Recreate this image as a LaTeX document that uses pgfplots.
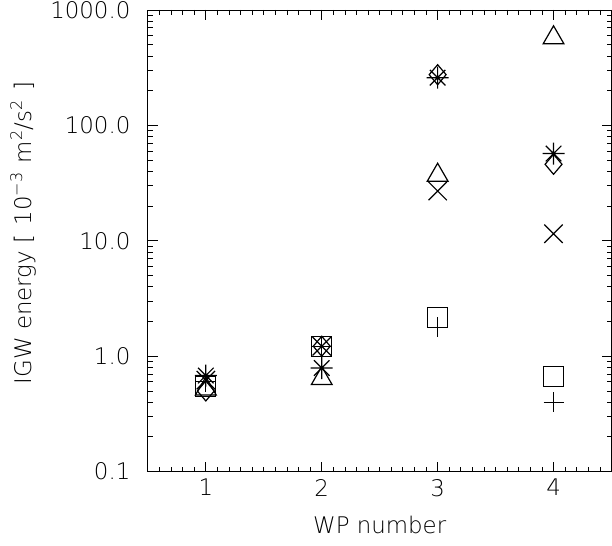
\documentclass[border=0pt]{standalone}
\usepackage{fontspec}
\usepackage{pgfplots}
\pgfplotsset{compat=1.18}
\newfontfamily\lightfont{DejaVu Sans ExtraLight}

% IDL style asterisk: plus and cross together
\pgfdeclareplotmark{ast8}{%
  \pgfpathmoveto{\pgfqpoint{-\pgfplotmarksize}{0pt}}%
  \pgfpathlineto{\pgfqpoint{\pgfplotmarksize}{0pt}}%
  \pgfpathmoveto{\pgfqpoint{0pt}{-\pgfplotmarksize}}%
  \pgfpathlineto{\pgfqpoint{0pt}{\pgfplotmarksize}}%
  \pgfpathmoveto{\pgfqpoint{-.70710678\pgfplotmarksize}{-.70710678\pgfplotmarksize}}%
  \pgfpathlineto{\pgfqpoint{.70710678\pgfplotmarksize}{.70710678\pgfplotmarksize}}%
  \pgfpathmoveto{\pgfqpoint{-.70710678\pgfplotmarksize}{.70710678\pgfplotmarksize}}%
  \pgfpathlineto{\pgfqpoint{.70710678\pgfplotmarksize}{-.70710678\pgfplotmarksize}}%
  \pgfusepathqstroke}

\begin{document}
\begin{tikzpicture}
\path[use as bounding box] (-148bp,-74bp) rectangle (464.5bp,472bp);
\begin{axis}[
  at={(0,0)}, anchor=south west,
  scale only axis, width=464bp, height=462bp,
  xmin=0.5, xmax=4.5,
  ymode=log, ymin=0.1, ymax=1000,
  font=\lightfont\fontsize{23}{27}\selectfont,
  axis line style={line width=0.9bp},
  tick style={line width=0.8bp, black},
  major tick length=10bp, minor tick length=5bp,
  xtick={1,2,3,4}, xticklabels={1,2,3,4},
  minor xtick={0.6,0.7,...,4.45},
  ytick={0.1,1,10,100,1000},
  yticklabels={0.1,1.0,10.0,100.0,1000.0},
  yticklabel style={xshift=-14bp},
  xticklabel style={yshift=-4bp},
  xlabel={WP number},
  ylabel={IGW energy [\hspace{0.4em}10\textsuperscript{−3}\hspace{0.4em}m\textsuperscript{2}/s\textsuperscript{2}\hspace{0.4em}]},
  xlabel style={at={(axis description cs:0.5,-0.1147)}, anchor=center},
  ylabel style={at={(axis description cs:-0.2694,0.517)}, anchor=center},
  clip=false,
  every axis plot/.append style={only marks, black, line width=1.2bp},
]
% plus
\addplot[mark=+, mark size=10bp] coordinates {(1,0.60)(2,1.22)(3,1.78)(4,0.40)};
% asterisk
\addplot[mark=ast8, mark size=11bp] coordinates {(1,0.68)(2,0.79)(3,259)(4,57)};
% diamond
\addplot[mark=diamond, mark size=10bp, mark options={xscale=1.13}] coordinates {(1,0.50)(2,1.22)(3,275)(4,46)};
% triangle
\addplot[mark=triangle, mark size=12bp] coordinates {(1,0.52)(2,0.64)(3,37)(4,574)};
% square
\addplot[mark=square, mark size=10bp] coordinates {(1,0.55)(2,1.22)(3,2.17)(4,0.67)};
% cross
\addplot[mark=x, mark size=13bp] coordinates {(1,0.62)(2,1.22)(3,27)(4,11.5)};
\end{axis}
\end{tikzpicture}
\end{document}
